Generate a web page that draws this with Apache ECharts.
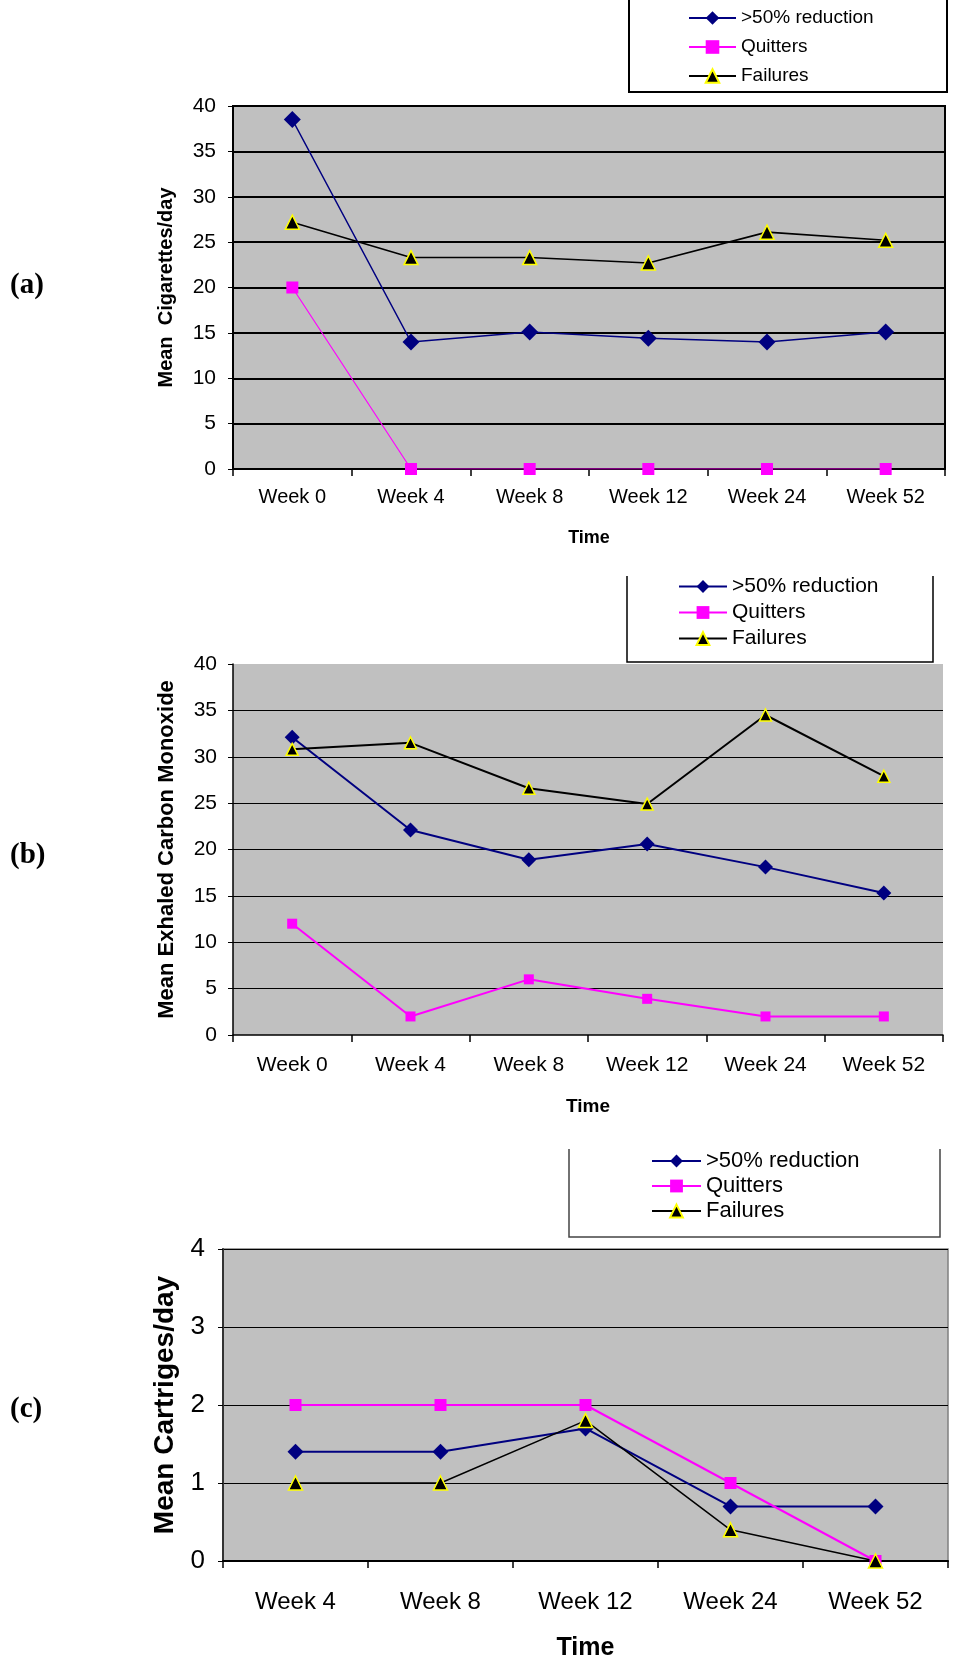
<!DOCTYPE html>
<html>
<head>
<meta charset="utf-8">
<script src="https://cdn.jsdelivr.net/npm/echarts@6/dist/echarts.min.js"></script>
<style>
  html, body { margin: 0; padding: 0; background: #ffffff; }
  #chart { width: 953px; height: 1670px; }
</style>
</head>
<body>
<div id="chart"></div>
<script>
// ---------- data ----------
const weeksAB = ['Week 0', 'Week 4', 'Week 8', 'Week 12', 'Week 24', 'Week 52'];
const weeksC = ['Week 4', 'Week 8', 'Week 12', 'Week 24', 'Week 52'];
const seriesNames = ['>50% reduction', 'Quitters', 'Failures'];

// (a) Mean cigarettes/day
const cigReduction = [38.5, 14.0, 15.1, 14.4, 14.0, 15.1];
const cigQuitters = [20, 0, 0, 0, 0, 0];
const cigFailures = [27.2, 23.3, 23.3, 22.7, 26.1, 25.2];

// (b) Mean exhaled carbon monoxide
const coReduction = [32.1, 22.1, 18.9, 20.6, 18.1, 15.3];
const coQuitters = [12, 2, 6, 3.9, 2, 2];
const coFailures = [30.8, 31.5, 26.6, 24.9, 34.5, 27.9];

// (c) Mean cartridges/day
const cartReduction = [1.4, 1.4, 1.7, 0.7, 0.7];
const cartQuitters = [2, 2, 2, 1, 0];
const cartFailures = [1, 1, 1.8, 0.4, 0];

const panelLabels = ['(a)', '(b)', '(c)'];
const yTitles = ['Mean  Cigarettes/day', 'Mean Exhaled Carbon Monoxide', 'Mean Cartriges/day'];
const xTitle = 'Time';

// ---------- styles ----------
const NAVY = '#000080', MAGENTA = '#FF00FF', BLACK = '#000000', YELLOW = '#FFFF00';
const FONT = '"Liberation Sans", Arial, sans-serif';
const SERIF = '"Liberation Serif", "Times New Roman", serif';

function mkSeries(idx, data, kind, lw, sz) {
  const base = { type: 'line', xAxisIndex: idx, yAxisIndex: idx, data: data, z: 3 };
  if (kind === 0) {
    return Object.assign(base, { name: seriesNames[0], symbol: 'diamond', symbolSize: sz,
      lineStyle: { color: NAVY, width: lw }, itemStyle: { color: NAVY } });
  } else if (kind === 1) {
    return Object.assign(base, { name: seriesNames[1], symbol: 'rect', symbolSize: sz,
      lineStyle: { color: MAGENTA, width: lw }, itemStyle: { color: MAGENTA } });
  }
  return Object.assign(base, { name: seriesNames[2], symbol: 'triangle', symbolSize: sz,
    lineStyle: { color: BLACK, width: lw }, itemStyle: { color: BLACK, borderColor: YELLOW, borderWidth: 1.5 } });
}

const grids = [
  { left: 233, top: 106, width: 712, height: 363, show: true, backgroundColor: '#C0C0C0', borderColor: '#000', borderWidth: 2 },
  { left: 233, top: 664, width: 710, height: 371, show: true, backgroundColor: '#C0C0C0', borderWidth: 0 },
  { left: 223, top: 1249, width: 725, height: 312, show: true, backgroundColor: '#C0C0C0', borderColor: '#808080', borderWidth: 1.5 }
];

const xCfg = [
  { data: weeksAB, font: 20, margin: 18, nameSize: 18, nameGap: 60, axisW: 2 },
  { data: weeksAB, font: 21, margin: 20, nameSize: 19, nameGap: 62, axisW: 1.5 },
  { data: weeksC, font: 24, margin: 29, nameSize: 25, nameGap: 75, axisW: 2 }
];
const xAxes = xCfg.map((c, i) => ({
  type: 'category', gridIndex: i, data: c.data, boundaryGap: true,
  name: xTitle, nameLocation: 'middle', nameGap: c.nameGap,
  nameTextStyle: { fontFamily: FONT, fontWeight: 'bold', fontSize: c.nameSize, color: '#000' },
  axisLine: { show: true, lineStyle: { color: '#000', width: c.axisW } },
  axisTick: { show: true, length: 7, alignWithLabel: false, lineStyle: { color: '#000', width: 1.5 } },
  axisLabel: { fontFamily: FONT, fontSize: c.font, color: '#000', margin: c.margin, interval: 0 },
  splitLine: { show: false }
}));

const yCfg = [
  { max: 40, interval: 5, font: 21, margin: 17, title: yTitles[0], tSize: 20, tGap: 57, gridW: 2, showMax: true, axisW: 2 },
  { max: 40, interval: 5, font: 21, margin: 16, title: yTitles[1], tSize: 22, tGap: 55, gridW: 1.2, showMax: false, axisW: 1.5 },
  { max: 4, interval: 1, font: 26, margin: 18, title: yTitles[2], tSize: 28, tGap: 39, gridW: 1.2, showMax: true, axisW: 2 }
];
const yAxes = yCfg.map((c, i) => ({
  type: 'value', gridIndex: i, min: 0, max: c.max, interval: c.interval,
  name: c.title, nameLocation: 'middle', nameRotate: 90, nameGap: c.tGap,
  nameTextStyle: { fontFamily: FONT, fontWeight: 'bold', fontSize: c.tSize, color: '#000' },
  axisLine: { show: true, lineStyle: { color: i === 2 ? '#333' : '#000', width: c.axisW } },
  axisTick: { show: true, length: 5, lineStyle: { color: '#000', width: 1 } },
  axisLabel: { fontFamily: FONT, fontSize: c.font, color: '#000', margin: c.margin },
  splitLine: { show: true, showMinLine: false, showMaxLine: c.showMax, lineStyle: { color: '#000', width: c.gridW } }
}));

const series = [
  mkSeries(0, cigReduction, 0, 1.4, 17),
  mkSeries(0, cigQuitters, 1, 1.2, 12),
  mkSeries(0, cigFailures, 2, 1.6, 14),
  mkSeries(1, coReduction, 0, 2, 15),
  mkSeries(1, coQuitters, 1, 2, 10),
  mkSeries(1, coFailures, 2, 2, 12),
  mkSeries(2, cartReduction, 0, 2, 16),
  mkSeries(2, cartQuitters, 1, 2, 12),
  mkSeries(2, cartFailures, 2, 1.5, 14)
];

const legendCfg = [
  { left: 688, top: 8, font: 19, w: 47, h: 17, gap: 9, lh: 20 },
  { left: 678, top: 576, font: 21, w: 48, h: 16, gap: 5, lh: 21 },
  { left: 651, top: 1150, font: 22, w: 49, h: 16, gap: 3, lh: 22 }
];
const legends = legendCfg.map(c => ({
  data: seriesNames, orient: 'vertical', left: c.left, top: c.top,
  itemWidth: c.w, itemHeight: c.h, itemGap: c.gap, padding: 0, selectedMode: false,
  textStyle: { fontFamily: FONT, fontSize: c.font, color: '#000', lineHeight: c.lh }
}));

const boxes = [
  { pts: [[629, -5], [629, 92], [947, 92], [947, -5]], c: '#000', w: 2 },
  { pts: [[627, 576], [627, 662], [933, 662], [933, 576]], c: '#000', w: 1.5 },
  { pts: [[569, 1149], [569, 1237], [940, 1237], [940, 1149]], c: '#444', w: 1.5 }
];
const labelY = [284, 854, 1408];

const graphic = [];
boxes.forEach(b => graphic.push({ type: 'polyline', shape: { points: b.pts }, style: { stroke: b.c, lineWidth: b.w, fill: null }, z: 10 }));
panelLabels.forEach((t, i) => graphic.push({
  type: 'text', left: 10, top: labelY[i] - 13,
  style: { text: t, font: 'bold 29px ' + SERIF, fill: '#000' }
}));

const option = {
  backgroundColor: '#ffffff',
  animation: false,
  grid: grids,
  xAxis: xAxes,
  yAxis: yAxes,
  legend: legends,
  series: series,
  graphic: graphic
};

const chart = echarts.init(document.getElementById('chart'), null, { renderer: 'canvas' });
chart.setOption(option);
</script>
</body>
</html>
